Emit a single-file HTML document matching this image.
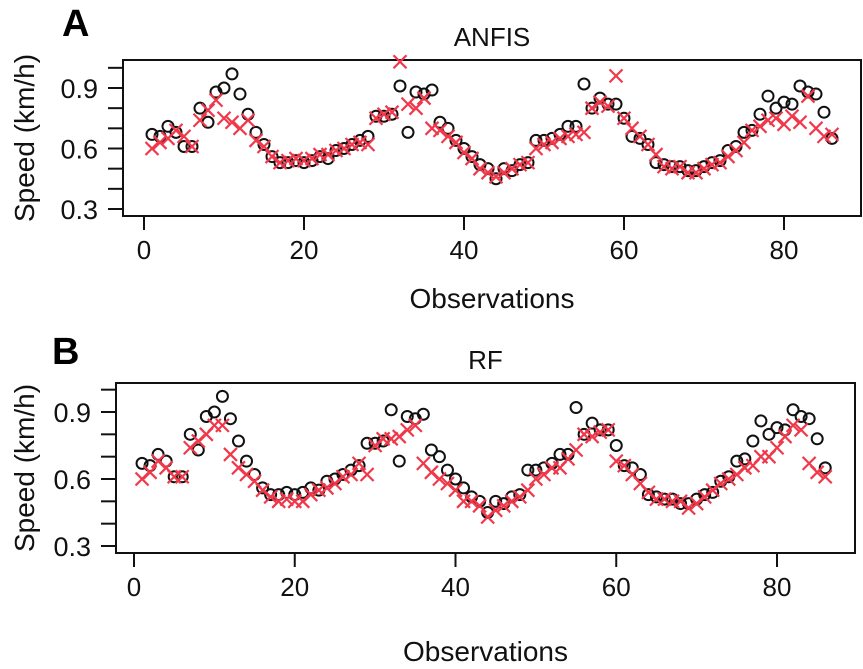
<!DOCTYPE html>
<html><head><meta charset="utf-8"><style>
body{margin:0;background:#fff;}
svg{display:block;font-family:"Liberation Sans",sans-serif;}
</style></head><body>
<svg id="chart" width="863" height="669" xmlns="http://www.w3.org/2000/svg"></svg>
<script>
const observations = [0.67,0.66,0.71,0.68,0.61,0.61,0.80,0.73,0.88,0.90,0.97,0.87,0.77,0.68,0.62,0.56,0.53,0.53,0.54,0.53,0.54,0.56,0.55,0.59,0.60,0.62,0.64,0.66,0.76,0.76,0.77,0.91,0.68,0.88,0.87,0.89,0.73,0.70,0.64,0.60,0.56,0.52,0.50,0.45,0.50,0.49,0.52,0.53,0.64,0.64,0.65,0.67,0.71,0.71,0.92,0.80,0.85,0.82,0.82,0.75,0.66,0.65,0.62,0.53,0.52,0.51,0.51,0.49,0.49,0.51,0.53,0.54,0.59,0.61,0.68,0.69,0.77,0.86,0.80,0.83,0.82,0.91,0.88,0.87,0.78,0.65];
const anfisPred = [0.60,0.63,0.65,0.69,0.66,0.61,0.74,0.79,0.84,0.75,0.73,0.70,0.74,0.64,0.61,0.56,0.53,0.54,0.55,0.54,0.55,0.57,0.57,0.59,0.60,0.62,0.63,0.62,0.75,0.77,0.78,1.03,0.82,0.80,0.85,0.70,0.69,0.66,0.63,0.58,0.55,0.50,0.48,0.46,0.48,0.50,0.52,0.53,0.60,0.62,0.63,0.65,0.66,0.67,0.68,0.80,0.83,0.81,0.96,0.75,0.70,0.66,0.62,0.57,0.51,0.50,0.51,0.48,0.48,0.50,0.52,0.53,0.56,0.59,0.63,0.69,0.71,0.74,0.75,0.72,0.76,0.73,0.86,0.70,0.66,0.67];
const rfPred = [0.60,0.63,0.68,0.65,0.61,0.61,0.74,0.77,0.80,0.84,0.84,0.71,0.65,0.62,0.59,0.55,0.52,0.50,0.51,0.50,0.50,0.53,0.55,0.56,0.58,0.61,0.62,0.67,0.62,0.75,0.78,0.78,0.79,0.82,0.84,0.67,0.63,0.60,0.58,0.55,0.50,0.50,0.48,0.43,0.46,0.48,0.50,0.52,0.55,0.60,0.62,0.65,0.65,0.69,0.73,0.80,0.79,0.81,0.82,0.68,0.66,0.62,0.58,0.54,0.51,0.51,0.50,0.50,0.47,0.49,0.52,0.55,0.58,0.60,0.62,0.65,0.66,0.70,0.70,0.74,0.79,0.84,0.82,0.67,0.63,0.61];
const xTicks = [0,20,40,60,80];
const yTicks = [0.3,0.4,0.5,0.6,0.7,0.8,0.9,1.0];
const yLabels = [0.3,0.6,0.9];

const NS="http://www.w3.org/2000/svg";
const svg=document.getElementById('chart');
function mk(tag,attrs,parent){const e=document.createElementNS(NS,tag);for(const k in attrs)e.setAttribute(k,attrs[k]);(parent||svg).appendChild(e);return e;}

function panel(cfg){
  const g=mk('g',{});
  
  
  const xs=v=>cfg.x0+(v-0)*(cfg.x80-cfg.x0)/80;
  const ys=v=>cfg.y03+(v-0.3)*(cfg.y09-cfg.y03)/0.6;
  const box=mk('rect',{x:cfg.L,y:cfg.T,width:cfg.R-cfg.L,height:cfg.B-cfg.T,fill:'none',stroke:'#111','stroke-width':2},g);
  
  
  const xa=mk('g',{},g);
  
  
  xTicks.forEach(t=>{
    mk('line',{x1:xs(t),x2:xs(t),y1:cfg.B,y2:cfg.B+14,stroke:'#111','stroke-width':2},xa);
    const tx=mk('text',{x:xs(t),y:cfg.B+43,'font-size':26,'text-anchor':'middle',fill:'#111'},xa);
    tx.textContent=t;
    
    
  });
  const ya=mk('g',{},g);
  
  
  yTicks.forEach(t=>{
    mk('line',{x1:cfg.L-15,x2:cfg.L,y1:ys(t),y2:ys(t),stroke:'#111','stroke-width':2},ya);
  });
  yLabels.forEach(t=>{
    const tx=mk('text',{x:cfg.L-25,y:ys(t)+10,'font-size':27,'text-anchor':'end',fill:'#111'},ya);
    tx.textContent=t.toFixed(1);
    
    
  });
  const yl=mk('text',{x:0,y:0,'font-size':28,'text-anchor':'middle',fill:'#111',transform:`translate(${cfg.ylx},${(cfg.T+cfg.B)/2}) rotate(-90)`},g);
  yl.textContent='Speed (km/h)';
  
  
  const xl=mk('text',{x:(cfg.L+cfg.R)/2,y:cfg.xly,'font-size':28,'text-anchor':'middle',fill:'#111'},g);
  xl.textContent='Observations';
  
  
  const ti=mk('text',{x:(cfg.L+cfg.R)/2,y:cfg.T-14,'font-size':26,'text-anchor':'middle',fill:'#111'},g);
  ti.textContent=cfg.title;
  
  
  const lt=mk('text',{x:cfg.lx,y:cfg.ly,'font-size':38,'font-weight':'bold',fill:'#000'},g);
  lt.textContent=cfg.letter;
  
  
  const obs=mk('g',{},g);
  
  
  observations.forEach((v,i)=>{
    const c=mk('circle',{cx:xs(i+1),cy:ys(v),r:5.5,fill:'none',stroke:'#111','stroke-width':2},obs);
    
    
  });
  const pr=mk('g',{},g);
  
  
  cfg.pred.forEach((v,i)=>{
    const x=xs(i+1),y=ys(v),s=6.5;
    const p=mk('path',{d:`M${x-s},${y-s}L${x+s},${y+s}M${x-s},${y+s}L${x+s},${y-s}`,stroke:'#f0384a','stroke-width':2.2,fill:'none'},pr);
    
    
  });
}
panel({name:'anfis',title:'ANFIS',letter:'A',pred:anfisPred,L:123,R:861,T:60,B:216,x0:144,x80:784,y03:209,y09:88,ylx:34,xly:308,lx:62,ly:36});
panel({name:'rf',title:'RF',letter:'B',pred:rfPred,L:116,R:855,T:383,B:553,x0:134,x80:777,y03:546,y09:412,ylx:34,xly:661,lx:52,ly:364});
</script>
</body></html>
